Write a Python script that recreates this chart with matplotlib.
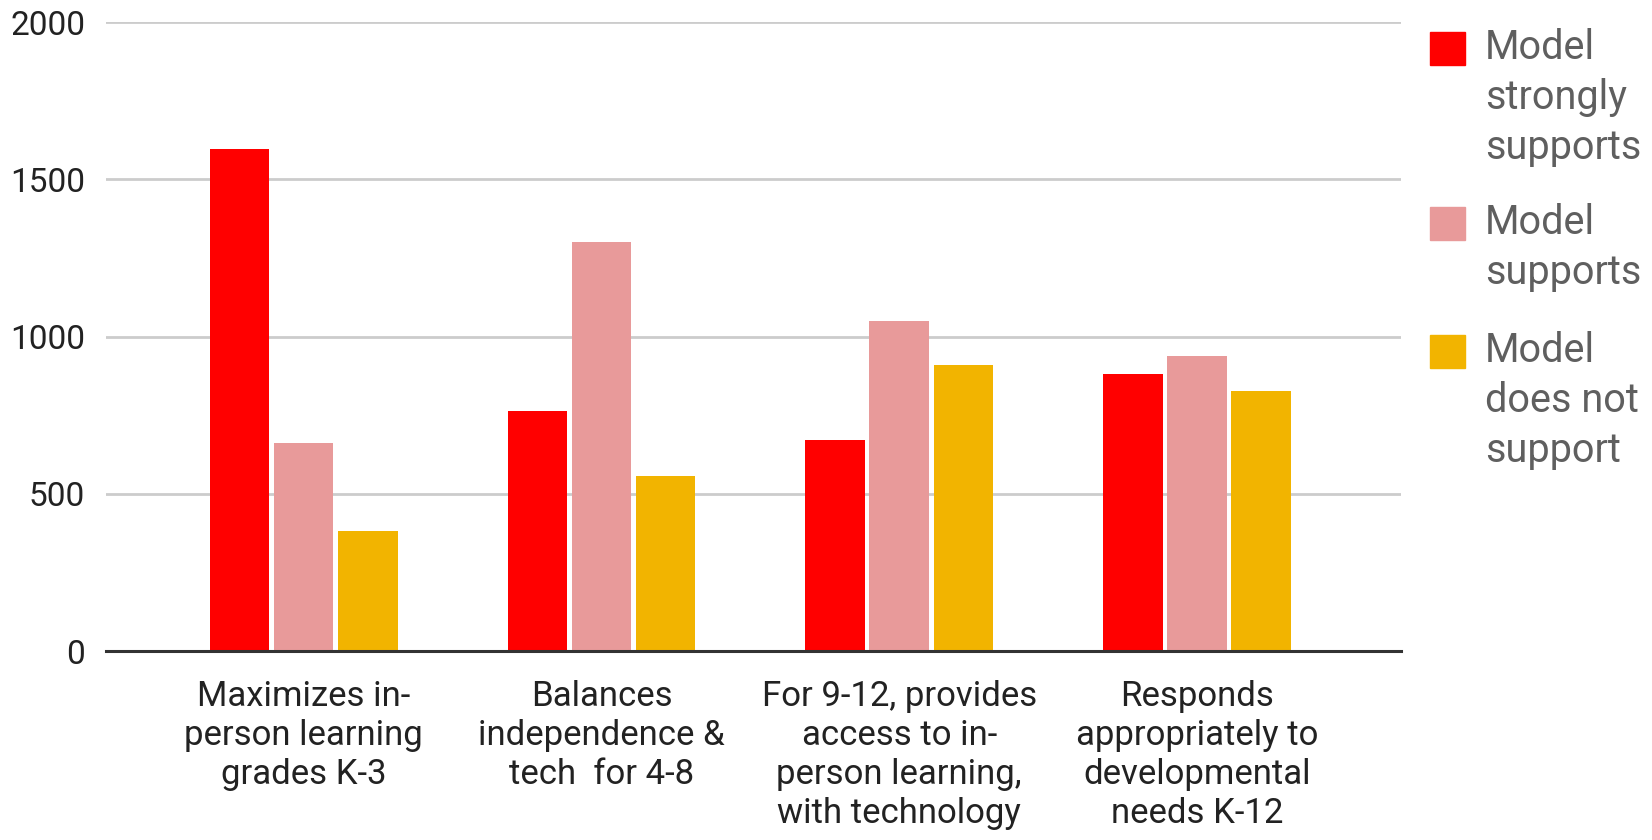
import numpy as np
import matplotlib.pyplot as plt
from matplotlib.patches import Rectangle

# data
categories = ['Maximizes in-\nperson learning\ngrades K-3',
              'Balances\nindependence &\ntech  for 4-8',
              'For 9-12, provides\naccess to in-\nperson learning,\nwith technology',
              'Responds\nappropriately to\ndevelopmental\nneeds K-12']
series_names = ['Model\nstrongly\nsupports', 'Model\nsupports', 'Model\ndoes not\nsupport']
strongly = [1597, 762, 670, 882]
supports = [661, 1300, 1050, 938]
not_support = [383, 557, 911, 828]
colors = ['#ff0000', '#e89a9a', '#f2b400']

plt.rcParams['font.family'] = ['Roboto', 'DejaVu Sans']
W, H = 1652, 840
fig = plt.figure(figsize=(W / 100, H / 100), dpi=100)
ax = fig.add_axes([106 / W, 1 - 651 / H, (1401 - 106) / W, (651 - 22.3) / H])

x = np.arange(len(categories))
pitch = 0.215
width = 0.2
for i, (vals, c) in enumerate(zip([strongly, supports, not_support], colors)):
    ax.bar(x + (i - 1) * pitch, vals, width, color=c, zorder=3)

ax.set_xlim(-0.664, 3.685)
ax.set_ylim(0, 2000)
ax.set_yticks([0, 500, 1000, 1500, 2000])
ax.yaxis.grid(True, color='#cccccc', linewidth=2, zorder=0)
ax.set_axisbelow(True)
for s in ['top', 'right', 'left']:
    ax.spines[s].set_visible(False)
ax.spines['bottom'].set_color('#333333')
ax.spines['bottom'].set_linewidth(2.2)
ax.spines['bottom'].set_zorder(4)
ax.set_xticks(x)
ax.set_xticklabels(categories, fontsize=25, color='#222222', linespacing=1.235)
ax.tick_params(axis='x', length=0, pad=21)
ax.tick_params(axis='y', length=0, pad=15, labelsize=24, labelcolor='#222222')

# legend drawn by hand so the squares line up with the first text line
tops = [32, 207, 335]
for name, c, t in zip(series_names, colors, tops):
    fig.patches.append(Rectangle((1430 / W, 1 - (t + 33) / H), 35 / W, 33 / H,
                                 transform=fig.transFigure, color=c, figure=fig))
    fig.text(1485 / W, 1 - (t - 4) / H, name, fontsize=28.5, color='#5f5f5f',
             va='top', ha='left', linespacing=1.36)

plt.savefig('out.png', dpi=100)
